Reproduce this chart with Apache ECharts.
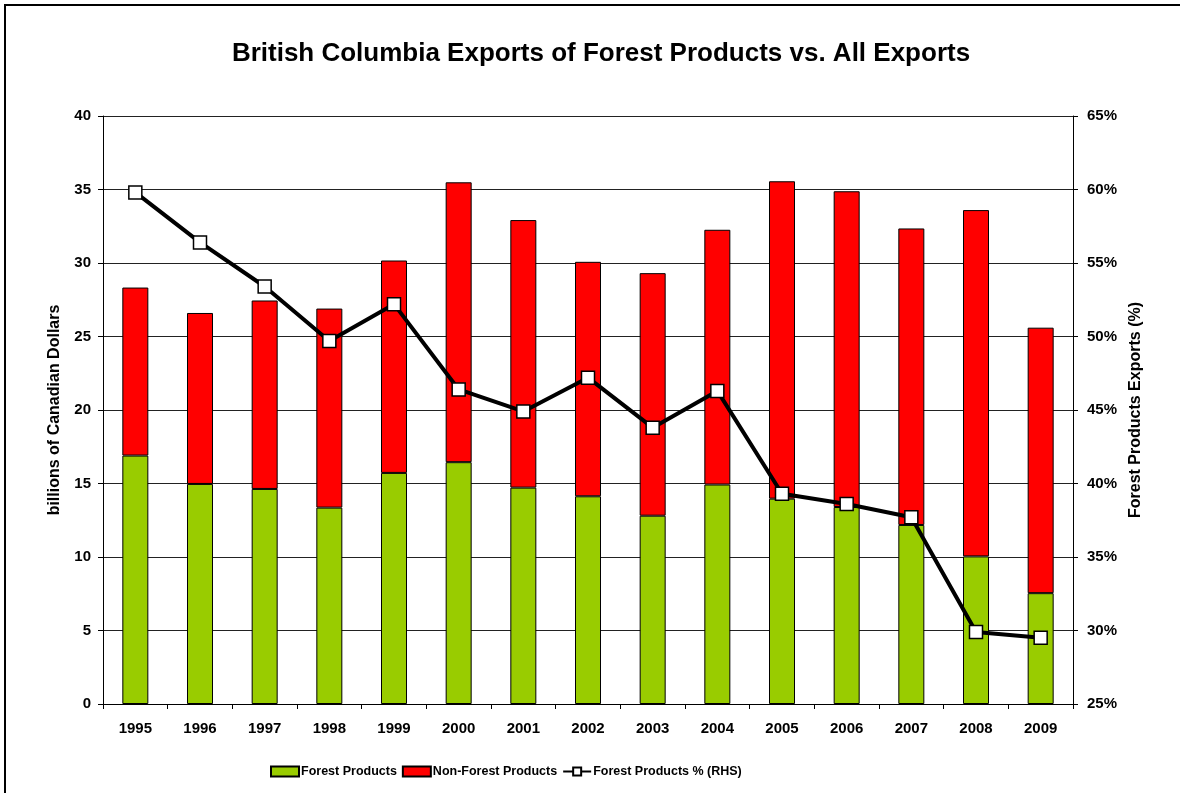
<!DOCTYPE html>
<html>
<head>
<meta charset="utf-8">
<script src="https://cdn.jsdelivr.net/npm/echarts@6/dist/echarts.min.js"></script>
<style>
html,body{margin:0;padding:0;background:#fff;}
#chart{width:1180px;height:793px;}
</style>
</head>
<body>
<div id="chart"></div>
<script>
var years = ['1995','1996','1997','1998','1999','2000','2001','2002','2003','2004','2005','2006','2007','2008','2009'];
var forestProducts = [16.9, 14.97, 14.63, 13.36, 15.72, 16.45, 14.72, 14.13, 12.81, 14.93, 13.97, 13.4, 12.18, 10.04, 7.54];
var totalExports = [28.33, 26.6, 27.45, 26.9, 30.17, 35.49, 32.92, 30.08, 29.31, 32.26, 35.56, 34.88, 32.35, 33.6, 25.6];
var nonForestProducts = totalExports.map(function (t, i) { return +(t - forestProducts[i]).toFixed(2); });
var forestPct = [59.8, 56.4, 53.4, 49.7, 52.2, 46.4, 44.9, 47.2, 43.8, 46.3, 39.3, 38.6, 37.7, 29.9, 29.5];

var FONT = '"Liberation Sans", Arial, sans-serif';
var chart = echarts.init(document.getElementById('chart'), null, {renderer: 'canvas'});
chart.setOption({
  backgroundColor: '#fff',
  animation: false,
  graphic: [{
    type: 'rect', z: -10,
    shape: {x: 5, y: 5, width: 1300, height: 900},
    style: {fill: 'none', stroke: '#000', lineWidth: 2}
  }],
  title: {
    text: 'British Columbia Exports of Forest Products vs. All Exports',
    left: 596, top: 36, textAlign: 'center',
    textStyle: {fontFamily: FONT, fontSize: 26, fontWeight: 'bold', color: '#000'}
  },
  legend: {
    left: 265, top: 760, itemGap: 5, itemWidth: 28, itemHeight: 10,
    textStyle: {fontFamily: FONT, fontSize: 12.5, fontWeight: 'bold', color: '#000', padding: [0,0,0,-3]},
    data: [
      {name: 'Forest Products', icon: 'rect'},
      {name: 'Non-Forest Products', icon: 'rect'},
      {name: 'Forest Products % (RHS)'}
    ]
  },
  grid: {left: 103, right: 107, top: 116, bottom: 89, containLabel: false},
  xAxis: {
    type: 'category', data: years, boundaryGap: true,
    axisLine: {lineStyle: {color: '#000', width: 1}},
    axisTick: {show: true, alignWithLabel: false, length: 5, lineStyle: {color: '#000'}},
    axisLabel: {fontFamily: FONT, fontSize: 15, fontWeight: 'bold', color: '#000', margin: 17}
  },
  yAxis: [{
    type: 'value', min: 0, max: 40, interval: 5,
    name: 'billions of Canadian Dollars', nameLocation: 'middle', nameGap: 40,
    nameTextStyle: {fontFamily: FONT, fontSize: 16, fontWeight: 'bold', color: '#000'},
    axisLine: {show: true, lineStyle: {color: '#000'}},
    axisTick: {show: true, length: 5, lineStyle: {color: '#000'}},
    axisLabel: {fontFamily: FONT, fontSize: 15, fontWeight: 'bold', color: '#000', margin: 12},
    splitLine: {show: true, lineStyle: {color: '#222', width: 1}}
  }, {
    type: 'value', min: 25, max: 65, interval: 5, position: 'right',
    name: 'Forest Products Exports (%)', nameLocation: 'middle', nameGap: 55, nameRotate: 90,
    nameTextStyle: {fontFamily: FONT, fontSize: 16, fontWeight: 'bold', color: '#000'},
    axisLine: {show: true, lineStyle: {color: '#000'}},
    axisTick: {show: true, length: 5, lineStyle: {color: '#000'}},
    axisLabel: {fontFamily: FONT, fontSize: 15, fontWeight: 'bold', color: '#000', margin: 14, formatter: '{value}%'},
    splitLine: {show: false}
  }],
  series: [{
    name: 'Forest Products', type: 'bar', stack: 'exp', barWidth: 26,
    data: forestProducts,
    itemStyle: {color: '#99CC00', borderColor: '#000', borderWidth: 1}
  }, {
    name: 'Non-Forest Products', type: 'bar', stack: 'exp', barWidth: 26,
    data: nonForestProducts,
    itemStyle: {color: '#FF0000', borderColor: '#000', borderWidth: 1}
  }, {
    name: 'Forest Products % (RHS)', type: 'line', yAxisIndex: 1, z: 10,
    data: forestPct,
    symbol: 'rect', symbolSize: 13, showAllSymbol: true,
    lineStyle: {color: '#000', width: 4},
    itemStyle: {color: '#fff', borderColor: '#000', borderWidth: 1.5}
  }]
});
</script>
</body>
</html>
